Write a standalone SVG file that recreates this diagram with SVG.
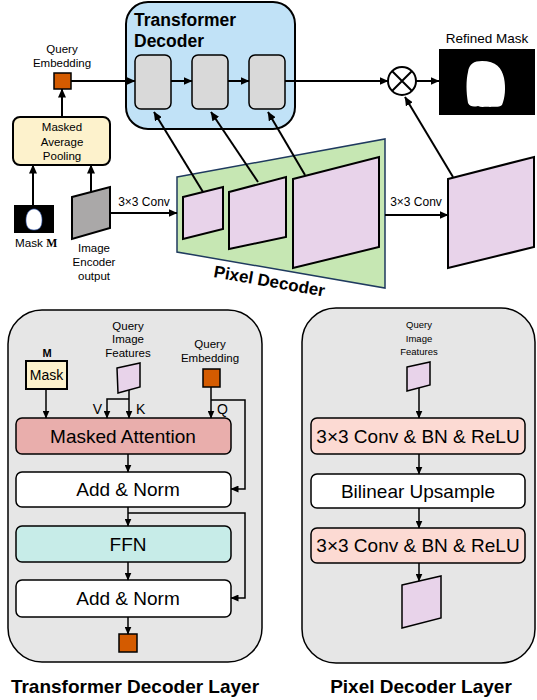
<svg xmlns="http://www.w3.org/2000/svg" width="537" height="700" viewBox="0 0 537 700">
<defs>
<marker id="ah" markerUnits="userSpaceOnUse" markerWidth="9" markerHeight="8" refX="8.5" refY="4" orient="auto"><path d="M0,0 L9,4 L0,8 z" fill="#000"/></marker>
<marker id="as" markerUnits="userSpaceOnUse" markerWidth="8" markerHeight="7" refX="7.5" refY="3.5" orient="auto"><path d="M0,0 L8,3.5 L0,7 z" fill="#000"/></marker>
<style>
text{font-family:"Liberation Sans",Arial,sans-serif;fill:#000}
.s{font-size:11.5px;text-anchor:middle}
.b{font-size:19px;text-anchor:middle}
.bold{font-weight:bold}
.c{stroke:#000;stroke-width:2;fill:none}
.cb{stroke:#000;stroke-width:1.5;fill:none}
.box{stroke:#000;stroke-width:1.5}
.pink{fill:#e8d3ea;stroke:#000;stroke-width:2}
.orange{fill:#d45b00;stroke:#000;stroke-width:1.5}
</style>
</defs>
<rect width="537" height="700" fill="#fff"/>

<g id="transformer-decoder">
<rect x="126" y="2" width="169" height="127" rx="22" fill="#c1e2f7" stroke="#000" stroke-width="2"/>
<text x="134" y="26" style="font-size:17.5px" class="bold">Transformer</text>
<text x="134" y="47" style="font-size:17.5px" class="bold">Decoder</text>
</g>
<g id="td-box1"><rect x="135" y="55" width="36" height="54" rx="6" fill="#d9d9d9" stroke="#000" stroke-width="1.5"/></g>
<g id="td-box2"><rect x="192" y="55" width="36" height="54" rx="6" fill="#d9d9d9" stroke="#000" stroke-width="1.5"/></g>
<g id="td-box3"><rect x="249" y="55" width="36" height="54" rx="6" fill="#d9d9d9" stroke="#000" stroke-width="1.5"/></g>

<g id="query-embedding">
<text x="62" y="53" class="s">Query</text>
<text x="62" y="67" class="s">Embedding</text>
<rect x="54" y="73" width="17" height="16" class="orange"/>
</g>

<g id="masked-avg-pooling">
<rect x="13" y="117" width="97" height="48" rx="7" fill="#fdf2cc" stroke="#000" stroke-width="2"/>
<text x="62" y="131" class="s">Masked</text>
<text x="62" y="146" class="s">Average</text>
<text x="62" y="160" class="s">Pooling</text>
</g>

<g id="mask-input">
<rect x="14" y="205" width="40" height="28" fill="#000"/>
<path d="M34,209 C29,209 26,214 26,220 C26,226 28,230 34,230 C40,230 42,226 42,220 C42,214 39,209 34,209 z" fill="#fff" stroke="#3a66c8" stroke-width="0.6"/>
<text x="15" y="247" style="font-size:11.7px">Mask <tspan style="font-family:'Liberation Serif',serif;font-weight:bold">M</tspan></text>
</g>

<g id="image-encoder-output">
<polygon points="72,197 110,187 110,228 72,239" fill="#aaa8a8" stroke="#000" stroke-width="2"/>
<text x="94" y="252" class="s">Image</text>
<text x="94" y="266" class="s">Encoder</text>
<text x="94" y="280" class="s">output</text>
</g>

<g id="pixel-decoder">
<polygon points="177,177 385,139 385,288 177,252" fill="#c6e7b3" stroke="#1f3a5f" stroke-width="1.5"/>
<polygon points="183,197 223,187 223,229 183,239" class="pink"/>
<polygon points="229,192 286,177 286,237 229,249" class="pink"/>
<polygon points="293,179 379,157 379,247 293,268" class="pink"/>
<text x="213" y="277" transform="rotate(10 213 277)" style="font-size:17px" class="bold">Pixel Decoder</text>
</g>

<g id="output-features">
<polygon points="448,179 534,157 534,247 448,268" class="pink"/>
</g>

<g id="multiply">
<circle cx="402" cy="81" r="14" fill="#fff" stroke="#000" stroke-width="2"/>
<path d="M392,71 L412,91 M412,71 L392,91" class="c"/>
</g>

<g id="refined-mask">
<text x="487" y="43" style="font-size:13.5px;text-anchor:middle">Refined Mask</text>
<rect x="439" y="49" width="96" height="66" fill="#000"/>
<path d="M482,61 C474,61 469,64 468,72 C466,80 466,92 468,103 C470,107 474,107 478,106 C482,108 486,106 490,107 C494,106 498,108 502,105 C505,98 506,88 504,78 C502,68 496,61 482,61 z" fill="#fff"/>
</g>

<g id="connectors-top">
<path d="M71,81 H135" class="c" marker-end="url(#ah)"/>
<path d="M171,81 H192" class="c" marker-end="url(#ah)"/>
<path d="M228,81 H249" class="c" marker-end="url(#ah)"/>
<path d="M285,81 H388" class="c" marker-end="url(#ah)"/>
<path d="M416,81 H439" class="c" marker-end="url(#ah)"/>
<path d="M62,117 V89" class="c" marker-end="url(#ah)"/>
<path d="M33,205 V165" class="c" marker-end="url(#ah)"/>
<path d="M91,192 V165" class="c" marker-end="url(#ah)"/>
<path d="M110,213 H177" class="c" marker-end="url(#ah)"/>
<text x="144" y="206" style="font-size:12px;text-anchor:middle">3×3 Conv</text>
<path d="M385,215 H448" class="c" marker-end="url(#ah)"/>
<text x="416" y="206" style="font-size:12px;text-anchor:middle">3×3 Conv</text>
<path d="M203,192 L154,112" class="c" marker-end="url(#ah)"/>
<path d="M258,182 L211,112" class="c" marker-end="url(#ah)"/>
<path d="M305,175 L268,112" class="c" marker-end="url(#ah)"/>
<path d="M453,177 L405,97" class="c" marker-end="url(#ah)"/>
</g>

<g id="transformer-decoder-layer">
<rect x="8" y="310" width="254" height="352" rx="34" fill="#e6e6e6" stroke="#000" stroke-width="1.5"/>
<text x="135" y="693" class="b bold">Transformer Decoder Layer</text>
</g>
<g id="tdl-mask">
<text x="47" y="357" style="font-size:11px;text-anchor:middle" class="bold">M</text>
<rect x="26" y="361" width="41" height="28" fill="#fdf2cc" stroke="#000" stroke-width="2"/>
<text x="46.5" y="380" style="font-size:14px;text-anchor:middle">Mask</text>
</g>
<g id="tdl-query-features">
<text x="128" y="330" class="s">Query</text>
<text x="128" y="343" class="s">Image</text>
<text x="128" y="357" class="s">Features</text>
<polygon points="117,368 140,363 140,387 118,393" class="pink" style="stroke-width:1.5"/>
</g>
<g id="tdl-query-embedding">
<text x="210" y="348" class="s">Query</text>
<text x="210" y="362" class="s">Embedding</text>
<rect x="203" y="369" width="17" height="18" class="orange"/>
</g>
<g id="tdl-masked-attention">
<rect x="16" y="418" width="215" height="36" rx="6" fill="#e9aeac" class="box"/>
<text x="123" y="443" class="b">Masked Attention</text>
</g>
<g id="tdl-addnorm1">
<rect x="16" y="472" width="215" height="35" rx="6" fill="#fff" class="box"/>
<text x="128" y="496" class="b">Add &amp; Norm</text>
</g>
<g id="tdl-ffn">
<rect x="16" y="526" width="215" height="36" rx="6" fill="#c7ece8" class="box"/>
<text x="128" y="551" class="b">FFN</text>
</g>
<g id="tdl-addnorm2">
<rect x="16" y="580" width="215" height="37" rx="6" fill="#fff" class="box"/>
<text x="128" y="605" class="b">Add &amp; Norm</text>
</g>
<g id="tdl-output">
<rect x="119" y="634" width="18" height="18" class="orange"/>
</g>

<g id="pixel-decoder-layer">
<rect x="302" y="308" width="233" height="355" rx="34" fill="#e6e6e6" stroke="#000" stroke-width="1.5"/>
<text x="421" y="693" class="b bold">Pixel Decoder Layer</text>
</g>
<g id="pdl-query-features">
<text x="419" y="328" style="font-size:9.5px;text-anchor:middle">Query</text>
<text x="419" y="342" style="font-size:9.5px;text-anchor:middle">Image</text>
<text x="419" y="355" style="font-size:9.5px;text-anchor:middle">Features</text>
<polygon points="407,367 430,362 430,385 407,391" class="pink" style="stroke-width:1.5"/>
</g>
<g id="pdl-conv1">
<rect x="311" y="418" width="214" height="36" rx="6" fill="#fcdad3" class="box"/>
<text x="418" y="443" class="b">3×3 Conv &amp; BN &amp; ReLU</text>
</g>
<g id="pdl-upsample">
<rect x="311" y="474" width="214" height="34" rx="6" fill="#fff" class="box"/>
<text x="418" y="498" class="b">Bilinear Upsample</text>
</g>
<g id="pdl-conv2">
<rect x="311" y="528" width="214" height="35" rx="6" fill="#fcdad3" class="box"/>
<text x="418" y="552" class="b">3×3 Conv &amp; BN &amp; ReLU</text>
</g>
<g id="pdl-output">
<polygon points="402,585 441,576 441,618 402,628" class="pink" style="stroke-width:1.5"/>
</g>

<g id="connectors-bottom">
<path d="M46,389 V418" class="cb" marker-end="url(#as)"/>
<path d="M129,390 V418" class="cb" marker-end="url(#as)"/>
<path d="M129,399 H107 V418" class="cb" marker-end="url(#as)"/>
<text x="102" y="414" style="font-size:14px;text-anchor:end">V</text>
<text x="136" y="414" style="font-size:14px">K</text>
<path d="M211,387 V418" class="cb" marker-end="url(#as)"/>
<path d="M211,400 H245 V489 H231" class="cb" marker-end="url(#as)"/>
<text x="217" y="414" style="font-size:14px">Q</text>
<path d="M128,454 V472" class="cb" marker-end="url(#as)"/>
<path d="M128,507 V526" class="cb" marker-end="url(#as)"/>
<path d="M128,513 H245 V598 H231" class="cb" marker-end="url(#as)"/>
<path d="M128,562 V580" class="cb" marker-end="url(#as)"/>
<path d="M128,617 V634" class="cb" marker-end="url(#as)"/>
<path d="M419,388 V418" class="cb" marker-end="url(#as)"/>
<path d="M419,454 V474" class="cb" marker-end="url(#as)"/>
<path d="M419,508 V528" class="cb" marker-end="url(#as)"/>
<path d="M419,563 V581" class="cb" marker-end="url(#as)"/>
</g>
</svg>
